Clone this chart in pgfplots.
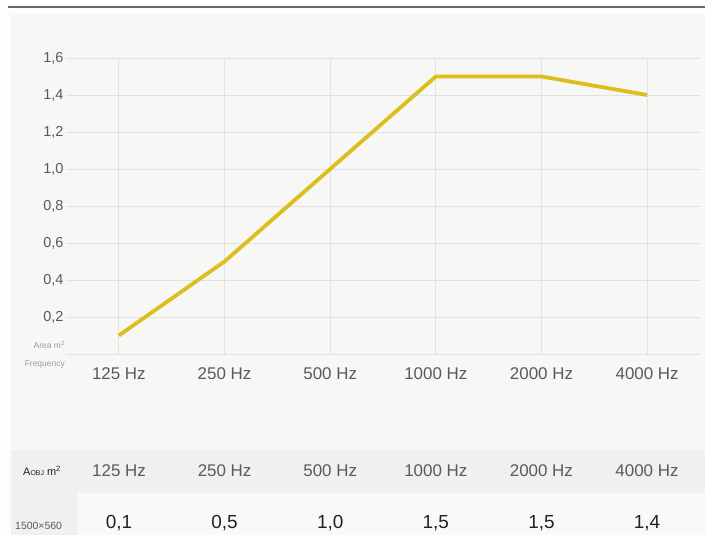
\documentclass[border=0pt]{standalone}
\usepackage{pgfplots}
\pgfplotsset{compat=1.18}
\usepackage{fontspec}
\setmainfont{Liberation Sans}
\definecolor{bgout}{HTML}{FDFDFB}
\definecolor{panel}{HTML}{F7F7F5}
\definecolor{hdr}{HTML}{F0F0F0}
\definecolor{valrow}{HTML}{F9F9F8}
\definecolor{linec}{HTML}{DCBF1E}
\definecolor{gridc}{HTML}{E2E2E0}
\definecolor{txt}{HTML}{5A5A5A}
\definecolor{lite}{HTML}{9A9A9A}
\definecolor{topline}{HTML}{666666}
\definecolor{valc}{HTML}{222222}
\begin{document}
\begin{tikzpicture}
\useasboundingbox (0bp,0bp) rectangle (705bp,-535bp);
\fill[bgout] (0bp,0bp) rectangle (705bp,-535bp);
\fill[panel] (11bp,-14bp) rectangle (705bp,-535bp);
\fill[hdr] (11bp,-450bp) rectangle (705bp,-493bp);
\fill[hdr] (11bp,-493bp) rectangle (78bp,-535bp);
\fill[valrow] (78bp,-493bp) rectangle (705bp,-535bp);
\draw[topline, line width=2bp] (8bp,-7bp) -- (705bp,-7bp);
\begin{axis}[
  at={(66bp,-354bp)}, anchor=south west,
  scale only axis, width=634bp, height=296bp,
  xmin=-0.5, xmax=5.5, ymin=0, ymax=1.6,
  axis line style={draw=none},
  xtick={0,1,2,3,4,5},
  xticklabels={125 Hz,250 Hz,500 Hz,1000 Hz,2000 Hz,4000 Hz},
  ytick={0,0.2,0.4,0.6,0.8,1.0,1.2,1.4,1.6},
  yticklabels={{},{0,2},{0,4},{0,6},{0,8},{1,0},{1,2},{1,4},{1,6}},
  major tick length=0pt,
  tick style={draw=none},
  grid=major,
  major grid style={gridc, line width=0.8bp},
  xticklabel style={font=\fontsize{17}{17}\selectfont, text=txt, yshift=-10bp},
  yticklabel style={font=\fontsize{14.5}{14.5}\selectfont, text=txt, xshift=1bp},
  clip=false,
]
\addplot[linec, line width=3.8bp, line join=round] coordinates {
  (0,0.1) (1,0.5) (2,1.0) (3,1.5) (4,1.5) (5,1.4)
};
\end{axis}
\node[anchor=east, text=lite, font=\fontsize{8.5}{8.5}\selectfont, inner sep=0pt] at (65bp,-345bp) {Area m\textsuperscript{2}};
\node[anchor=east, text=lite, font=\fontsize{8.5}{8.5}\selectfont, inner sep=0pt] at (65bp,-364bp) {Frequency};
\node[anchor=west, text=valc, font=\fontsize{11}{11}\selectfont, inner sep=0pt] at (23bp,-471bp) {A{\fontsize{7}{7}\selectfont OBJ} m\textsuperscript{2}};
\node[anchor=west, text=txt, font=\fontsize{10.5}{10.5}\selectfont, inner sep=0pt] at (15bp,-526bp) {1500×560};
\foreach \i/\f/\v in {0/125 Hz/{0,1},1/250 Hz/{0,5},2/500 Hz/{1,0},3/1000 Hz/{1,5},4/2000 Hz/{1,5},5/4000 Hz/{1,4}}{
  \node[text=txt, font=\fontsize{17}{17}\selectfont, inner sep=0pt] at ({119bp+105.6bp*\i},-471bp) {\f};
  \node[text=valc, font=\fontsize{19}{19}\selectfont, inner sep=0pt] at ({119bp+105.6bp*\i},-523bp) {\v};
}
\end{tikzpicture}
\end{document}
